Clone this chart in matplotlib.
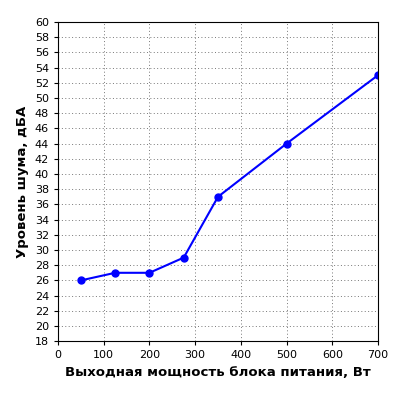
import matplotlib
matplotlib.use("Agg")
import matplotlib.pyplot as plt

power = [50, 125, 200, 275, 350, 500, 700]
noise = [26, 27, 27, 29, 37, 44, 53]
xticks = list(range(0, 701, 100))
yticks = list(range(18, 61, 2))

fig = plt.figure(figsize=(4, 4), dpi=100)
ax = fig.add_axes([0.145, 0.147, 0.80, 0.798])
ax.plot(power, noise, color="#0000ff", marker="o", markersize=5, linewidth=1.5)
ax.set_xlim(0, 700)
ax.set_ylim(18, 60)
ax.set_xticks(xticks)
ax.set_yticks(yticks)
ax.tick_params(labelsize=8, length=3)
ax.grid(True, color="#777777", linewidth=0.7, dashes=(1, 2.5))
ax.set_xlabel("Выходная мощность блока питания, Вт", fontsize=9.5, fontweight="bold")
ax.set_ylabel("Уровень шума, дБА", fontsize=9.5, fontweight="bold")
fig.savefig("out.png", dpi=100)
